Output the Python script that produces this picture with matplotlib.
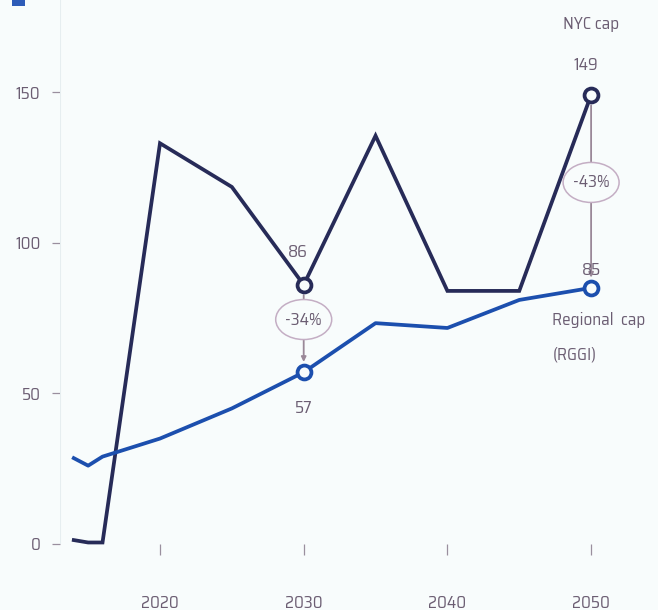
import matplotlib
matplotlib.use("Agg")
import matplotlib.pyplot as plt
from matplotlib.patches import Ellipse, Rectangle

plt.rcParams['font.family'] = ['Saira SemiCondensed', 'Saira Condensed', 'DejaVu Sans']

nyc_years = [2014, 2015, 2016, 2020, 2025, 2030, 2035, 2040, 2045, 2050]
nyc_vals = [1.3, 0.5, 0.5, 133, 118.5, 86, 135.5, 84, 84, 149]
rggi_years = [2014, 2015, 2016, 2020, 2025, 2030, 2035, 2040, 2045, 2050]
rggi_vals = [28.5, 26, 29, 35, 45, 57, 73.3, 71.7, 81, 85]
x_ticks = [2020, 2030, 2040, 2050]
y_ticks = [0, 50, 100, 150]
gaps = [(2030, 86, 57, '-34%'), (2050, 149, 85, '-43%')]

navy = '#272b58'
blue = '#1c4fae'
txt = '#6b5d72'
conn = '#9a8898'
bg = '#f8fcfc'
fs = 12.3

fig = plt.figure(figsize=(6.58, 6.10), dpi=100, facecolor=bg)
ax = fig.add_axes([60/658, 66/610, 598/658, 544/610])
ax.set_facecolor(bg)
ax.set_xlim(2020 - 100/14.37, 2020 + 498/14.37)
ax.set_ylim(0, 544/3.013)
for s in ax.spines.values():
    s.set_visible(False)
ax.axvline(ax.get_xlim()[0], color='#e6eef0', lw=0.8)

ax.plot(nyc_years, nyc_vals, color=navy, lw=2.7, clip_on=False, solid_joinstyle='miter', zorder=3)
ax.plot(rggi_years, rggi_vals, color=blue, lw=2.7, clip_on=False, zorder=3)

for yr, hi, lo, lab in gaps:
    ax.annotate('', xy=(yr, lo + 2.5), xytext=(yr, hi - 2.5),
                arrowprops=dict(arrowstyle='-|>', color=conn, lw=1.3, mutation_scale=7), zorder=2)
    mid = (hi + lo) / 2 + 3
    ax.add_patch(Ellipse((yr, mid), width=56/14.37, height=40/3.013, facecolor=bg,
                         edgecolor='#c4aec4', lw=1.1, zorder=4))
    ax.text(yr, mid, lab, ha='center', va='center', color=txt, fontsize=fs, zorder=5)
    ax.plot([yr], [hi], marker='o', ms=10, mfc=bg, mec=navy, mew=2.7, zorder=6, clip_on=False)
    ax.plot([yr], [lo], marker='o', ms=10, mfc=bg, mec=blue, mew=2.7, zorder=6, clip_on=False)

ax.text(2029.6, 94.3, '86', ha='center', va='bottom', color=txt, fontsize=fs)
ax.text(2030, 47.7, '57', ha='center', va='top', color=txt, fontsize=fs)
ax.text(2049.6, 156.3, '149', ha='center', va='bottom', color=txt, fontsize=fs)
ax.text(2050, 88.3, '85', ha='center', va='bottom', color=txt, fontsize=fs)
ax.text(2050, 170, 'NYC cap', ha='center', va='bottom', color=txt, fontsize=fs)
ax.text(2047.3, 74.3, 'Regional  cap', ha='left', va='center', color=txt, fontsize=fs)
ax.text(2047.3, 62.8, '(RGGI)', ha='left', va='center', color=txt, fontsize=fs)

ax.set_xticks(x_ticks)
ax.set_xticklabels([str(v) for v in x_ticks])
ax.set_yticks(y_ticks)
ax.set_yticklabels([str(v) for v in y_ticks])
ax.tick_params(axis='x', direction='out', length=8, width=0.9, color='#9a8f9e',
               pad=29, labelsize=fs, labelcolor=txt)
ax.tick_params(axis='y', direction='out', length=6, width=0.9, color='#9a8f9e',
               pad=8, labelsize=fs, labelcolor=txt)

fig.patches.append(Rectangle((12/658, 1 - 6/610), 13/658, 6/610, transform=fig.transFigure,
                             facecolor='#2e5cb8', edgecolor='none'))

fig.savefig('out.png', dpi=100, facecolor=bg)
